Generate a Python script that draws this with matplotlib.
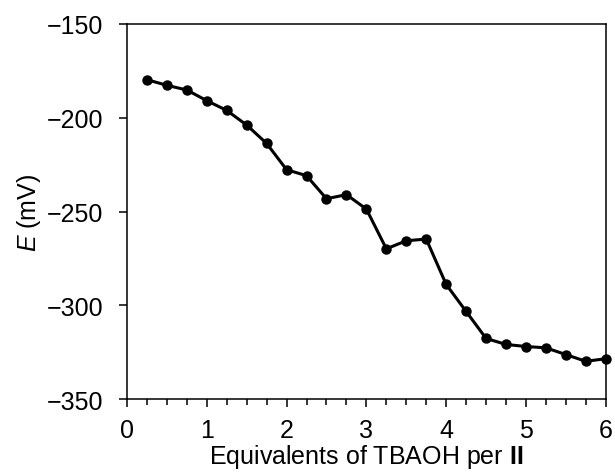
import matplotlib
matplotlib.use("Agg")
import matplotlib.pyplot as plt
from matplotlib.ticker import MultipleLocator

plt.rcParams["font.family"] = ["Liberation Sans", "DejaVu Sans"]
plt.rcParams["mathtext.fontset"] = "custom"
plt.rcParams["mathtext.rm"] = "Liberation Sans"
plt.rcParams["mathtext.it"] = "Liberation Sans:italic"
plt.rcParams["mathtext.bf"] = "Liberation Sans:bold"

# titration: equivalents of base added vs. measured potential
equiv = [0.25, 0.5, 0.75, 1.0, 1.25, 1.5, 1.75, 2.0, 2.25, 2.5, 2.75, 3.0,
         3.25, 3.5, 3.75, 4.0, 4.25, 4.5, 4.75, 5.0, 5.25, 5.5, 5.75, 6.0]
potential = [-179.7, -182.7, -185.2, -190.9, -196.1, -203.9, -213.7, -227.7,
             -230.9, -243.2, -241.0, -248.7, -269.9, -265.6, -264.7, -288.9,
             -303.3, -317.7, -320.9, -322.0, -322.7, -326.3, -329.9, -328.5]

fig = plt.figure(figsize=(6.15, 4.77), dpi=100)
ax = fig.add_axes([0.2065, 0.1614, 0.7785, 0.7862])

ax.plot(equiv, potential, color="black", lw=2.2, marker="o", ms=6.5,
        clip_on=False, zorder=3)

ax.set_xlim(0, 6)
ax.set_ylim(-350, -150)
ax.xaxis.set_major_locator(MultipleLocator(1))
ax.xaxis.set_minor_locator(MultipleLocator(0.25))
ax.yaxis.set_major_locator(MultipleLocator(50))

ax.tick_params(axis="both", which="major", direction="out", length=6,
               width=1.1, labelsize=18)
ax.tick_params(axis="x", which="major", pad=8)
ax.tick_params(axis="y", which="major", pad=11)
ax.tick_params(axis="x", which="minor", direction="out", length=4, width=1.1)
ax.tick_params(top=False, right=False)
for sp in ax.spines.values():
    sp.set_linewidth(1.1)

ax.set_xlabel(r"Equivalents of TBAOH per $\mathbf{II}$", fontsize=18, labelpad=0)
ax.set_ylabel(r"$E$ (mV)", fontsize=18, labelpad=3)

fig.savefig("out.png", dpi=100)
